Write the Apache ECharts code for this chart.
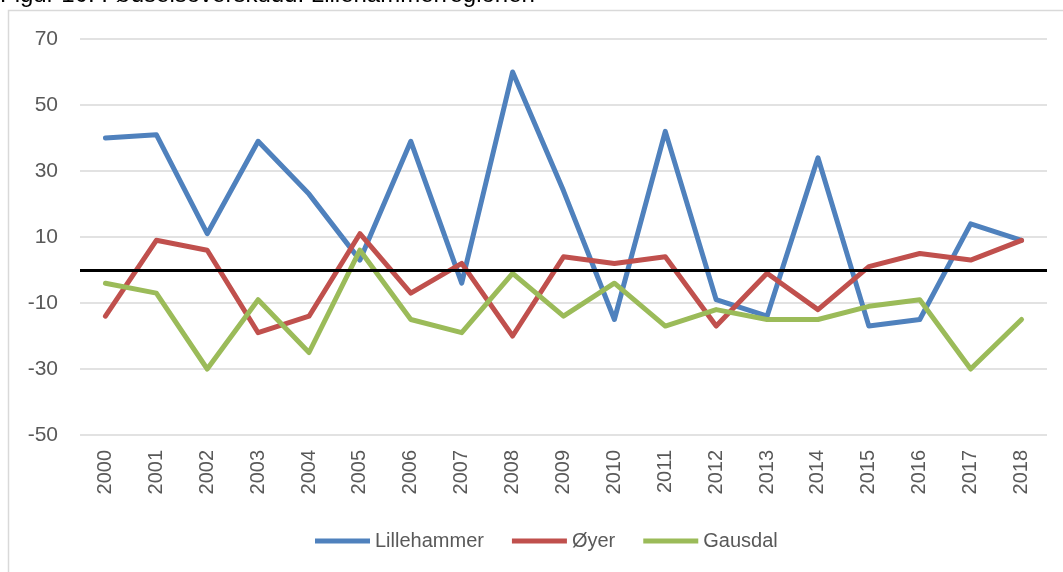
<!DOCTYPE html>
<html>
<head>
<meta charset="utf-8">
<script src="https://cdn.jsdelivr.net/npm/echarts@6/dist/echarts.min.js"></script>
<style>
  html, body { margin: 0; padding: 0; background: #fff; }
  #view { width: 1063px; height: 572px; }
</style>
</head>
<body>
<div id="view"></div>
<script>
var years = ['2000', '2001', '2002', '2003', '2004', '2005', '2006', '2007', '2008', '2009',
             '2010', '2011', '2012', '2013', '2014', '2015', '2016', '2017', '2018'];
var lillehammer = [40, 41, 11, 39, 23, 3, 39, -4, 60, 24, -15, 42, -9, -14, 34, -17, -15, 14, 9];
var oyer = [-14, 9, 6, -19, -14, 11, -7, 2, -20, 4, 2, 4, -17, -1, -12, 1, 5, 3, 9];
var gausdal = [-4, -7, -30, -9, -25, 6, -15, -19, -1, -14, -4, -17, -12, -15, -15, -11, -9, -30, -15];
var yTicks = [-50, -30, -10, 10, 30, 50, 70];

var myChart = echarts.init(document.getElementById('view'));

var font = 'Arial, "Liberation Sans", sans-serif';

function lineSeries(name, data, color) {
    return {
        name: name,
        type: 'line',
        data: data,
        showSymbol: false,
        z: 3,
        lineStyle: { color: color, width: 5, cap: 'round', join: 'round' },
        itemStyle: { color: color }
    };
}

option = {
    animation: false,
    graphic: [
        {
            type: 'rect',
            shape: { x: 8.5, y: 10.5, width: 1200, height: 700 },
            style: { fill: 'none', stroke: '#D9D9D9', lineWidth: 1.5 },
            z: 0
        },
        {
            type: 'text',
            left: 0,
            top: -17,
            style: {
                text: 'Figur 10: Fødselsoverskudd. Lillehammerregionen',
                font: '24px ' + font,
                fill: '#000'
            }
        }
    ],
    grid: { left: 80, right: 16, top: 39, bottom: 137 },
    legend: {
        data: ['Lillehammer', 'Øyer', 'Gausdal'],
        left: 310,
        top: 526,
        icon: 'rect',
        itemWidth: 55,
        itemHeight: 5,
        itemGap: 28,
        textStyle: { fontFamily: font, fontSize: 20, color: '#595959' }
    },
    xAxis: {
        type: 'category',
        data: years,
        boundaryGap: true,
        axisLine: { show: false },
        axisTick: { show: false },
        axisLabel: {
            rotate: 90,
            interval: 0,
            margin: 15,
            fontFamily: font,
            fontSize: 20,
            color: '#595959'
        }
    },
    yAxis: {
        type: 'value',
        min: -50,
        max: 70,
        interval: 20,
        axisLine: { show: false },
        axisTick: { show: false },
        axisLabel: {
            margin: 22,
            fontFamily: font,
            fontSize: 21,
            color: '#595959',
            customValues: yTicks
        },
        splitLine: { lineStyle: { color: '#D9D9D9', width: 1.5 } }
    },
    series: [
        {
            name: 'zero',
            type: 'line',
            data: [],
            z: 2,
            markLine: {
                silent: true,
                symbol: 'none',
                label: { show: false },
                lineStyle: { color: '#000', width: 3, type: 'solid' },
                data: [{ yAxis: 0 }]
            }
        },
        lineSeries('Lillehammer', lillehammer, '#4F81BD'),
        lineSeries('Øyer', oyer, '#C0504D'),
        lineSeries('Gausdal', gausdal, '#9BBB59')
    ]
};

myChart.setOption(option);
</script>
</body>
</html>
